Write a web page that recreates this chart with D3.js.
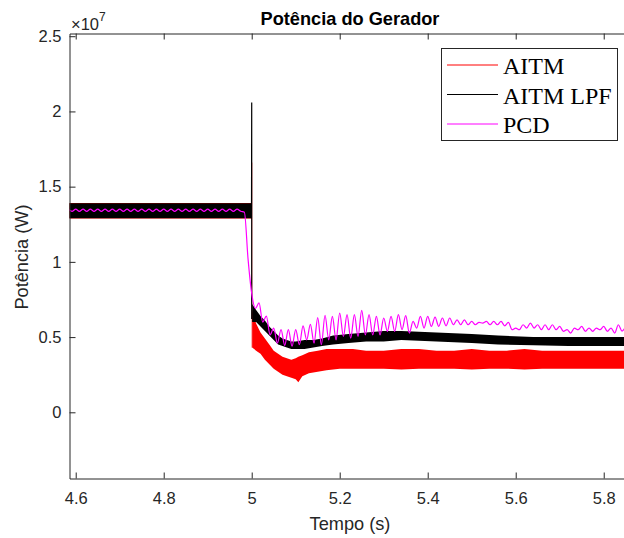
<!DOCTYPE html>
<html>
<head>
<meta charset="utf-8">
<script src="https://cdn.jsdelivr.net/npm/d3@7"></script>
<style>
  body { margin: 0; background: #fff; }
  svg { display: block; }
  text { font-family: "Liberation Sans", Arial, sans-serif; }
</style>
</head>
<body>
<svg id="chart" width="624" height="538"></svg>
<script>
// ---- data (power in units of 1e7 W, time in s) ----
const seriesNames = ["AITM", "AITM LPF", "PCD"];
const seriesColors = ["#ff0000", "#000000", "#ff00ff"];

const xTicks = [4.6, 4.8, 5, 5.2, 5.4, 5.6, 5.8];
const yTicks = [0, 0.5, 1, 1.5, 2, 2.5];

// AITM (red) noisy band: min / max read per time
const aitmPreTimes = [4.58, 4.9995];
const aitmPreLow = [1.2885, 1.2885];
const aitmPreHigh = [1.3915, 1.3915];
const aitmSpikeTimes = [5.0005, 5.0005];
const aitmSpikeValues = [1.66, 0.43];
const aitmTimes = [5.001, 5.010, 5.020, 5.030, 5.040, 5.050, 5.060, 5.070, 5.080, 5.090, 5.100, 5.106, 5.115, 5.130, 5.150, 5.170, 5.200, 5.230, 5.260, 5.300, 5.340, 5.380, 5.420, 5.460, 5.500, 5.540, 5.580, 5.620, 5.660, 5.700, 5.740, 5.780, 5.820, 5.850];
const aitmLow  = [0.43, 0.41, 0.39, 0.35, 0.32, 0.29, 0.27, 0.25, 0.24, 0.23, 0.22, 0.20, 0.24, 0.26, 0.27, 0.28, 0.29, 0.29, 0.29, 0.29, 0.285, 0.29, 0.29, 0.29, 0.285, 0.29, 0.29, 0.285, 0.29, 0.29, 0.29, 0.29, 0.29, 0.29];
const aitmHigh = [0.68, 0.59, 0.53, 0.49, 0.45, 0.41, 0.39, 0.37, 0.36, 0.35, 0.36, 0.37, 0.38, 0.40, 0.41, 0.42, 0.42, 0.42, 0.41, 0.41, 0.42, 0.42, 0.41, 0.41, 0.42, 0.41, 0.41, 0.42, 0.41, 0.41, 0.41, 0.41, 0.41, 0.41];

// AITM LPF (black) noisy band
const lpfPreTimes = [4.58, 4.9995];
const lpfPreLow = [1.29, 1.29];
const lpfPreHigh = [1.39, 1.39];
const lpfSpikeTimes = [4.9995, 5.0, 5.0];
const lpfSpikeValues = [1.29, 2.06, 0.62];
const lpfTimes = [5.001, 5.010, 5.020, 5.030, 5.040, 5.050, 5.060, 5.070, 5.080, 5.090, 5.100, 5.120, 5.140, 5.160, 5.185, 5.220, 5.260, 5.300, 5.340, 5.380, 5.420, 5.460, 5.500, 5.560, 5.640, 5.720, 5.790, 5.850];
const lpfLow  = [0.60, 0.60, 0.57, 0.54, 0.51, 0.48, 0.45, 0.44, 0.43, 0.42, 0.42, 0.42, 0.43, 0.44, 0.45, 0.46, 0.47, 0.47, 0.48, 0.475, 0.47, 0.465, 0.46, 0.45, 0.445, 0.44, 0.44, 0.44];
const lpfHigh = [0.72, 0.68, 0.64, 0.61, 0.57, 0.54, 0.51, 0.49, 0.48, 0.47, 0.47, 0.48, 0.48, 0.49, 0.51, 0.52, 0.53, 0.54, 0.54, 0.535, 0.53, 0.525, 0.52, 0.51, 0.50, 0.50, 0.50, 0.50];

// PCD (magenta): peaks and troughs of the 60 Hz ripple, one value per half cycle
const pcdStart = 4.58333;
const pcdStep = 1 / 120;
const pcdValues = [
  1.350, 1.336, 1.350, 1.336, 1.350, 1.336, 1.350, 1.336, 1.350, 1.336,
  1.350, 1.336, 1.350, 1.336, 1.350, 1.336, 1.350, 1.336, 1.350, 1.336,
  1.350, 1.336, 1.350, 1.336, 1.350, 1.336, 1.350, 1.336, 1.350, 1.336,
  1.350, 1.336, 1.350, 1.336, 1.350, 1.336, 1.350, 1.336, 1.350, 1.336,
  1.350, 1.336, 1.350, 1.336, 1.350, 1.336, 1.350, 1.336,
  1.33, 1.02, 0.79, 0.69,
  0.727, 0.60, 0.64, 0.515, 0.56, 0.46, 0.55, 0.445, 0.55, 0.44, 0.55, 0.45,
  0.575, 0.482, 0.585, 0.460, 0.630, 0.449, 0.645, 0.482, 0.638, 0.482,
  0.660, 0.504, 0.649, 0.493, 0.649, 0.504, 0.678, 0.515, 0.649, 0.515,
  0.638, 0.515, 0.627, 0.538, 0.638, 0.538, 0.649, 0.549, 0.642, 0.527,
  0.604, 0.560, 0.638, 0.560, 0.638, 0.571, 0.633, 0.571, 0.627, 0.575,
  0.627, 0.582, 0.615, 0.582, 0.615, 0.582, 0.604, 0.582, 0.598, 0.593,
  0.604, 0.582, 0.604, 0.582, 0.604, 0.575, 0.598, 0.549, 0.560, 0.549,
  0.582, 0.560, 0.593, 0.560, 0.582, 0.549, 0.582, 0.549, 0.582, 0.549,
  0.571, 0.538, 0.549, 0.527, 0.560, 0.549, 0.571, 0.538, 0.560, 0.538,
  0.560, 0.549, 0.571, 0.538, 0.560, 0.527, 0.582, 0.540, 0.570
];

// ---- layout ----
const plot = { left: 69.5, right: 625.5, top: 33.5, bottom: 478.5 };
const axisColor = "#262626";

const svg = d3.select("#chart");

const x = d3.scaleLinear().domain([4.5859, 5.8495]).range([plot.left, plot.right]);
const y = d3.scaleLinear().domain([-0.44, 2.518]).range([plot.bottom, plot.top]);

svg.append("defs").append("clipPath").attr("id", "clip")
  .append("rect")
  .attr("x", plot.left).attr("y", plot.top)
  .attr("width", plot.right - plot.left).attr("height", plot.bottom - plot.top);

const g = svg.append("g").attr("clip-path", "url(#clip)");

const band = d3.area().x(d => x(d.t)).y0(d => y(d.lo)).y1(d => y(d.hi));
const line = d3.line().x(d => x(d.t)).y(d => y(d.v));

function zipBand(times, lo, hi) {
  return times.map((t, i) => ({ t, lo: lo[i], hi: hi[i] }));
}
function zipLine(times, vals) {
  return times.map((t, i) => ({ t, v: vals[i] }));
}

// AITM
g.append("path").attr("d", band(zipBand(aitmPreTimes, aitmPreLow, aitmPreHigh))).attr("fill", seriesColors[0]);
g.append("path").attr("d", line(zipLine(aitmSpikeTimes, aitmSpikeValues)))
  .attr("fill", "none").attr("stroke", seriesColors[0]).attr("stroke-width", 1).attr("stroke-opacity", 0.5);
g.append("path").attr("d", band(zipBand(aitmTimes, aitmLow, aitmHigh))).attr("fill", seriesColors[0]);

// AITM LPF
g.append("path").attr("d", band(zipBand(lpfPreTimes, lpfPreLow, lpfPreHigh))).attr("fill", seriesColors[1]);
g.append("path").attr("d", line(zipLine(lpfSpikeTimes, lpfSpikeValues)))
  .attr("fill", "none").attr("stroke", seriesColors[1]).attr("stroke-width", 1.2);
g.append("path").attr("d", band(zipBand(lpfTimes, lpfLow, lpfHigh))).attr("fill", seriesColors[1]);

// PCD
const pcdData = pcdValues.map((v, i) => ({ t: pcdStart + i * pcdStep, v }));
g.append("path")
  .attr("d", line.curve(d3.curveMonotoneX)(pcdData))
  .attr("fill", "none").attr("stroke", seriesColors[2]).attr("stroke-width", 1.2);

// ---- axes ----
const fmt = d => String(d);

const xAxis = svg.append("g").attr("transform", `translate(0,${plot.bottom})`)
  .call(d3.axisBottom(x).tickValues(xTicks).tickFormat(fmt).tickSize(-6).tickSizeOuter(0).tickPadding(13.5));
const xTop = svg.append("g").attr("transform", `translate(0,${plot.top})`)
  .call(d3.axisTop(x).tickValues(xTicks).tickFormat("").tickSize(-6).tickSizeOuter(0));
const yAxis = svg.append("g").attr("transform", `translate(${plot.left},0)`)
  .call(d3.axisLeft(y).tickValues(yTicks).tickFormat(fmt).tickSize(-6).tickSizeOuter(0).tickPadding(8));

[xAxis, xTop, yAxis].forEach(a => {
  a.select(".domain").attr("stroke", axisColor);
  a.selectAll(".tick line").attr("stroke", axisColor);
  a.selectAll(".tick text").attr("fill", axisColor)
    .style("font-family", '"Liberation Sans", Arial, sans-serif').style("font-size", "16.5px");
});

// exponent
const expo = svg.append("text").attr("x", 71).attr("y", 30)
  .attr("fill", axisColor).style("font-size", "16.5px");
expo.append("tspan").text("\u00d710");
expo.append("tspan").attr("dy", -9).style("font-size", "12px").text("7");

// labels
svg.append("text").attr("x", 350).attr("y", 25).attr("text-anchor", "middle")
  .style("font-size", "18.2px").style("font-weight", "bold").attr("fill", "#000")
  .text("Potência do Gerador");
svg.append("text").attr("x", 350).attr("y", 530).attr("text-anchor", "middle")
  .style("font-size", "18.2px").attr("fill", axisColor)
  .text("Tempo (s)");
svg.append("text").attr("transform", "translate(28,257) rotate(-90)").attr("text-anchor", "middle")
  .style("font-size", "18.2px").attr("fill", axisColor)
  .text("Potência (W)");

// ---- legend ----
const legend = svg.append("g");
legend.append("rect").attr("x", 441.5).attr("y", 48.5).attr("width", 176).attr("height", 92)
  .attr("fill", "#fff").attr("stroke", axisColor).attr("stroke-width", 1);
seriesNames.forEach((name, i) => {
  const ly = 65 + i * 29.5;
  legend.append("line").attr("x1", 447).attr("x2", 498).attr("y1", ly).attr("y2", ly)
    .attr("stroke", seriesColors[i]).attr("stroke-width", 1);
  legend.append("text").attr("x", 503).attr("y", ly + 9)
    .style("font-family", '"Liberation Serif", "Times New Roman", serif').style("font-size", "24px")
    .attr("fill", "#000").text(name);
});
</script>
</body>
</html>
